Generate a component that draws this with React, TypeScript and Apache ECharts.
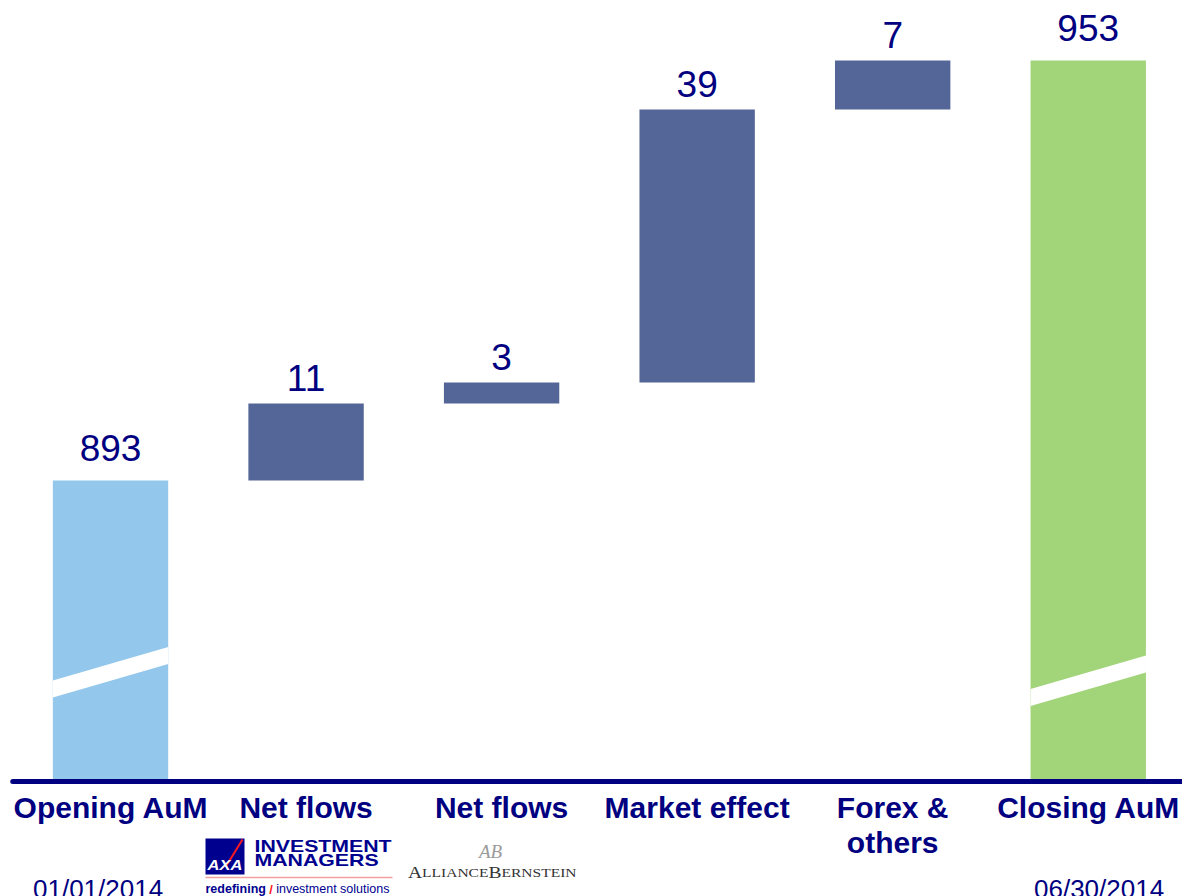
import React, { useEffect, useRef } from "react";
import * as echarts from "echarts";

// ---- data ----
const categories = ["Opening AuM", "Net flows", "Net flows", "Market effect", "Forex &\nothers", "Closing AuM"];
const values = [893, 11, 3, 39, 7, 953];
const kinds = ["total", "delta", "delta", "delta", "delta", "total"];
const breakLevels = [862, null, null, null, null, 860.8];
const dateLabels = ["01/01/2014", "06/30/2014"];

const Y_MIN = 850;
const Y_MAX = 960;

const NAVY = "#000080";
const COLORS: Record<string, string> = {
  open: "#93C7EB",
  delta: "#546597",
  close: "#A2D47A",
};

// build waterfall rows [index, start, end, value, breakLevel]
function buildRows() {
  const rows: any[] = [];
  let running = 0;
  values.forEach((v, i) => {
    let start: number, end: number, key: string;
    if (kinds[i] === "total") {
      start = 0;
      end = v;
      running = v;
      key = i === 0 ? "open" : "close";
    } else {
      start = running;
      end = running + v;
      running = end;
      key = "delta";
    }
    rows.push({ value: [i, start, end, v, breakLevels[i] ?? -1], key });
  });
  return rows;
}

const SANS = "Liberation Sans, Arial, sans-serif";
const SERIF = "Liberation Serif, DejaVu Serif, serif";

export default function App() {
  const ref = useRef<HTMLDivElement>(null);

  useEffect(() => {
    document.body.style.margin = "0";
    const chart = echarts.init(ref.current!, null, { renderer: "svg" });
    const rows = buildRows();

    const option: any = {
      animation: false,
      backgroundColor: "#ffffff",
      grid: {
        left: 12.75,
        width: 1173.25,
        top: 11.5,
        bottom: 114.5,
        containLabel: false,
        outerBoundsMode: "none",
      },
      xAxis: {
        type: "category",
        data: categories,
        z: 10,
        axisLine: { show: true, lineStyle: { color: NAVY, width: 5 } },
        axisTick: { show: false },
        splitLine: { show: false },
        axisLabel: {
          interval: 0,
          margin: 8,
          color: NAVY,
          fontFamily: SANS,
          fontWeight: "bold",
          fontSize: 30,
          lineHeight: 35,
          hideOverlap: false,
        },
      },
      yAxis: {
        type: "value",
        min: Y_MIN,
        max: Y_MAX,
        show: false,
        splitLine: { show: false },
      },
      series: [
        {
          type: "custom",
          clip: false,
          data: rows.map((r) => ({ value: r.value })),
          renderItem: (params: any, api: any) => {
            const idx = api.value(0);
            const lo = Math.max(api.value(1), Y_MIN);
            const hi = api.value(2);
            const v = api.value(3);
            const brk = api.value(4);
            const key = rows[params.dataIndex].key;
            const isTotal = key !== "delta";
            const pBot = api.coord([idx, lo]);
            const pTop = api.coord([idx, hi]);
            const bw = api.size([1, 0])[0] * 0.59;
            const x0 = pBot[0] - bw / 2;
            const children: any[] = [
              {
                type: "rect",
                shape: { x: x0, y: pTop[1], width: bw, height: pBot[1] - pTop[1] },
                style: { fill: COLORS[key] },
              },
              {
                type: "text",
                x: pTop[0],
                y: pTop[1] - (isTotal ? 14 : 7),
                style: {
                  text: String(v),
                  fill: NAVY,
                  fontSize: 37,
                  fontFamily: SANS,
                  align: "center",
                  verticalAlign: "bottom",
                  textAlign: "center",
                  textVerticalAlign: "bottom",
                },
              },
            ];
            if (brk > 0) {
              const yl = api.coord([idx, brk])[1];
              const rise = bw * 0.29;
              const thick = 17;
              children.push({
                type: "polygon",
                shape: {
                  points: [
                    [x0, yl],
                    [x0 + bw, yl - rise],
                    [x0 + bw, yl - rise - thick],
                    [x0, yl - thick],
                  ],
                },
                style: { fill: "#ffffff" },
              });
            }
            return { type: "group", children };
          },
        },
      ],
      graphic: [
        {
          type: "text",
          left: 33,
          top: 876,
          style: { text: dateLabels[0], fill: NAVY, fontSize: 26, fontFamily: SANS },
        },
        {
          type: "text",
          left: 1034,
          top: 876,
          style: { text: dateLabels[1], fill: NAVY, fontSize: 26, fontFamily: SANS },
        },
        // AXA Investment Managers logo
        {
          type: "group",
          left: 203,
          top: 837,
          children: [
            { type: "rect", shape: { x: 0, y: 0, width: 39, height: 36 }, style: { fill: "#00008F" } },
            {
              type: "line",
              shape: { x1: 21, y1: 27, x2: 37, y2: 1 },
              style: { stroke: "#FF1721", lineWidth: 2 },
            },
            {
              type: "text",
              x: 2,
              y: 19,
              scaleX: 1.1,
              style: {
                text: "AXA",
                fill: "#ffffff",
                fontSize: 15,
                fontWeight: "bold",
                fontStyle: "italic",
                fontFamily: SANS,
              },
            },
            {
              type: "text",
              x: 49,
              y: 1,
              scaleX: 1.29,
              style: {
                text: "INVESTMENT\nMANAGERS",
                fill: "#00008F",
                fontSize: 16.5,
                lineHeight: 14,
                fontWeight: "bold",
                fontFamily: SANS,
              },
            },
            {
              type: "line",
              shape: { x1: 0, y1: 39, x2: 187, y2: 39 },
              style: { stroke: "#F4A0A0", lineWidth: 1.5 },
            },
            {
              type: "text",
              x: 0,
              y: 44,
              style: {
                text: "{a|redefining} {r|/} {b|investment solutions}",
                fontFamily: SANS,
                rich: {
                  a: { fill: "#00008F", fontSize: 12.5, fontWeight: "bold", fontFamily: SANS },
                  r: { fill: "#FF1721", fontSize: 13, fontWeight: "bold", fontFamily: SANS },
                  b: { fill: "#00008F", fontSize: 12.5, fontFamily: SANS },
                },
              },
            },
          ],
        },
        // AllianceBernstein logo
        {
          type: "group",
          left: 408,
          top: 842,
          children: [
            {
              type: "text",
              x: 71,
              y: 0,
              style: {
                text: "AB",
                fill: "#9A9A9A",
                fontSize: 19,
                fontStyle: "italic",
                fontFamily: SERIF,
              },
            },
            {
              type: "text",
              x: 0,
              y: 22,
              scaleX: 1.15,
              style: {
                text: "{L|A}{s|LLIANCE}{L|B}{s|ERNSTEIN}",
                fill: "#333333",
                fontFamily: SERIF,
                rich: {
                  L: { fill: "#333333", fontSize: 17, fontFamily: SERIF },
                  s: { fill: "#333333", fontSize: 13.5, fontFamily: SERIF },
                },
              },
            },
          ],
        },
      ],
    };

    chart.setOption(option);
    return () => chart.dispose();
  }, []);

  return (
    <div
      ref={ref}
      style={{ position: "absolute", left: 0, top: 0, width: 1182, height: 896 }}
    />
  );
}
